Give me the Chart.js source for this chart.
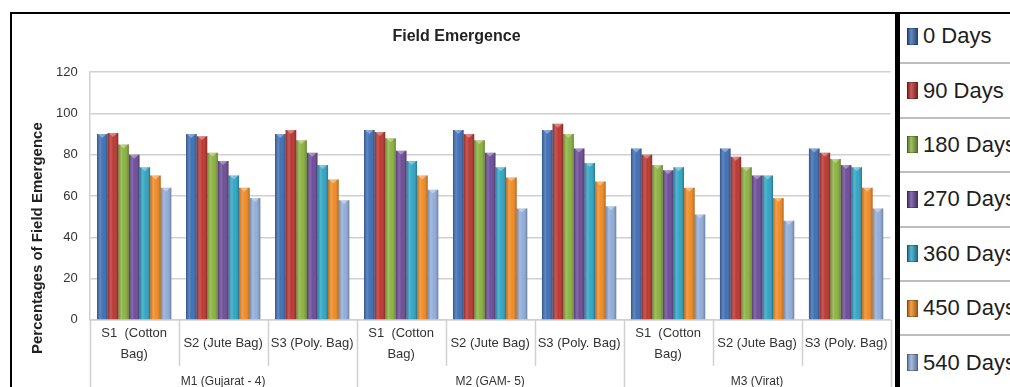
<!DOCTYPE html>
<html>
<head>
<meta charset="utf-8">
<title>Field Emergence</title>
<script src="https://cdn.jsdelivr.net/npm/chart.js@4.4.1/dist/chart.umd.min.js"></script>
<style>
  html, body { margin: 0; padding: 0; background: #fff; width: 1010px; height: 387px; overflow: hidden; }
  #chartBox {
    position: absolute; left: 10px; top: 12px;
    width: 885px; height: 410px;
    border-top: 2px solid #000; border-left: 2px solid #000;
    box-sizing: border-box;
  }
  #chartBox canvas { position: absolute; left: 0; top: 0; }
  #legendBox {
    position: absolute; left: 895px; top: 12px;
    width: 200px; height: 400px;
    border-top: 2px solid #000; border-left: 5px solid #000;
    box-sizing: border-box; overflow: hidden; background: #fff;
  }
  #legendBox ul { list-style: none; margin: -4px 0 0 0; padding: 0; }
  #legendBox li {
    height: 52.4px; border-bottom: 2px solid #bdbdbd;
    display: flex; align-items: center; white-space: nowrap;
    font-family: 'Liberation Sans', sans-serif;
    font-size: 22px; color: #1e1e1e;
  }
  #legendBox .swatch {
    display: inline-block; width: 11px; height: 17px;
    margin: 0 5px 0 7px; box-sizing: border-box;
  }
</style>
</head>
<body>
<div id="chartBox"><canvas id="fieldChart" width="889" height="377"></canvas></div>
<div id="legendBox"><ul id="legendList"></ul></div>
<script>
// Storage treatments (two-level x axis: bag type within each variety)
var bagLabels = [
    ['S1  (Cotton', 'Bag)'], 'S2 (Jute Bag)', 'S3 (Poly. Bag)',
    ['S1  (Cotton', 'Bag)'], 'S2 (Jute Bag)', 'S3 (Poly. Bag)',
    ['S1  (Cotton', 'Bag)'], 'S2 (Jute Bag)', 'S3 (Poly. Bag)'
];
var varietyLabels = ['M1 (Gujarat - 4)', 'M2 (GAM- 5)', 'M3 (Virat)'];

// Field emergence (%) after each storage period
var seriesNames = ['0 Days', '90 Days', '180 Days', '270 Days', '360 Days', '450 Days', '540 Days'];
var days0   = [90, 90, 90, 92, 92, 92, 83, 83, 83];
var days90  = [90.5, 89, 92, 91, 90, 95, 80, 79, 81];
var days180 = [85, 81, 87, 88, 87, 90, 75, 74, 78];
var days270 = [80, 77, 81, 82, 81, 83, 72.5, 70, 75];
var days360 = [74, 70, 75, 77, 74, 76, 74, 70, 74];
var days450 = [70, 64, 68, 70, 69, 67, 64, 59, 64];
var days540 = [64, 59, 58, 63, 54, 55, 51, 48, 54];

var yTicks = [0, 20, 40, 60, 80, 100, 120];

var seriesColors = ['#3d6db3', '#bb3530', '#8ab13e', '#6b4b97', '#2fa4c4', '#f08a22', '#91acd8'];
var seriesValues = [days0, days90, days180, days270, days360, days450, days540];

var fontStack = "'Liberation Sans', sans-serif";
var gridGray = '#d0d0d0';

var datasets = seriesNames.map(function (name, i) {
    return {
        label: name,
        data: seriesValues[i],
        backgroundColor: seriesColors[i],
        borderWidth: 0,
        categoryPercentage: 0.835,
        barPercentage: 1.0
    };
});

// Glossy shading on each bar, like the cylinder look of office charts
var barShine = {
    id: 'barShine',
    afterDatasetsDraw: function (chart) {
        var ctx = chart.ctx;
        chart.data.datasets.forEach(function (ds, di) {
            chart.getDatasetMeta(di).data.forEach(function (bar) {
                var left = bar.x - bar.width / 2;
                var g = ctx.createLinearGradient(left, 0, left + bar.width, 0);
                g.addColorStop(0, 'rgba(0,0,0,0.22)');
                g.addColorStop(0.3, 'rgba(255,255,255,0.18)');
                g.addColorStop(0.55, 'rgba(255,255,255,0.02)');
                g.addColorStop(1, 'rgba(0,0,0,0.28)');
                ctx.save();
                ctx.fillStyle = g;
                ctx.fillRect(left, bar.y, bar.width, bar.base - bar.y);
                // small light cap on the top
                ctx.fillStyle = 'rgba(255,255,255,0.35)';
                ctx.beginPath();
                ctx.moveTo(left + 1, bar.y);
                ctx.lineTo(left + bar.width - 1, bar.y);
                ctx.lineTo(bar.x, bar.y + 4);
                ctx.closePath();
                ctx.fill();
                ctx.restore();
            });
        });
    }
};

// Vertical separators under the axis between bag types and varieties
var categorySeparators = {
    id: 'categorySeparators',
    afterDraw: function (chart) {
        var x = chart.scales.x;
        var ctx = chart.ctx;
        var step = x.getPixelForValue(1) - x.getPixelForValue(0);
        var top = chart.chartArea.bottom;
        ctx.save();
        ctx.strokeStyle = gridGray;
        ctx.lineWidth = 1.5;
        for (var i = 0; i <= bagLabels.length; i++) {
            var px = Math.round(x.getPixelForValue(i) - step / 2) + 0.5;
            var bottom = (i % 3 === 0) ? chart.height : top + 46;
            ctx.beginPath();
            ctx.moveTo(px, top);
            ctx.lineTo(px, bottom);
            ctx.stroke();
        }
        ctx.restore();
    }
};

// Rotated y-axis title, centred over the plot plus the label rows
var yTitle = {
    id: 'yTitle',
    afterDraw: function (chart) {
        var ctx = chart.ctx;
        var cy = (chart.chartArea.top + chart.height) / 2 + 6.5;
        ctx.save();
        ctx.translate(26, cy);
        ctx.rotate(-Math.PI / 2);
        ctx.font = 'bold 15px ' + fontStack;
        ctx.fillStyle = '#222';
        ctx.textAlign = 'center';
        ctx.textBaseline = 'middle';
        ctx.fillText('Percentages of Field Emergence', 0, 0);
        ctx.restore();
    }
};

var ctx = document.getElementById('fieldChart').getContext('2d');
var fieldChart = new Chart(ctx, {
    type: 'bar',
    data: { labels: bagLabels, datasets: datasets },
    options: {
        responsive: false,
        animation: false,
        layout: { padding: { left: 0, right: 0, top: 0, bottom: 2 } },
        plugins: {
            legend: { display: false },
            tooltip: { enabled: false },
            title: {
                display: true,
                text: 'Field Emergence',
                color: '#222',
                font: { family: fontStack, size: 16, weight: 'bold', lineHeight: 1.2 },
                padding: { top: 13, bottom: 26 }
            }
        },
        scales: {
            x: {
                weight: 0,
                grid: { display: false, drawTicks: false },
                border: { display: true, color: gridGray, width: 1.5 },
                ticks: {
                    color: '#333',
                    font: { family: fontStack, size: 13, lineHeight: 1.62 },
                    padding: 13.5,
                    maxRotation: 0,
                    autoSkip: false,
                    crossAlign: 'center'
                }
            },
            x2: {
                type: 'category',
                labels: varietyLabels,
                position: 'bottom',
                offset: true,
                weight: 1,
                grid: { display: false, drawTicks: false },
                border: { display: false },
                ticks: {
                    color: '#333',
                    font: { family: fontStack, size: 12, lineHeight: 1.2 },
                    padding: -15,
                    maxRotation: 0
                }
            },
            y: {
                min: 0,
                max: 120,
                afterBuildTicks: function (axis) {
                    axis.ticks = yTicks.map(function (v) { return { value: v }; });
                },
                // leave room on the left for the rotated title
                afterFit: function (axis) {
                    axis.width += 32;
                },
                grid: { color: gridGray, lineWidth: 1.5, drawTicks: false },
                border: { display: true, color: gridGray, width: 1.5 },
                ticks: {
                    color: '#333',
                    font: { family: fontStack, size: 13 },
                    padding: 12
                }
            }
        }
    },
    plugins: [barShine, categorySeparators, yTitle]
});

// Legend panel built from the chart's datasets
var list = document.getElementById('legendList');
fieldChart.data.datasets.forEach(function (ds) {
    var li = document.createElement('li');
    var sw = document.createElement('span');
    sw.className = 'swatch';
    sw.style.background = 'linear-gradient(to right, rgba(0,0,0,0.25), rgba(255,255,255,0.2) 35%, rgba(0,0,0,0.3)), ' + ds.backgroundColor;
    sw.style.border = '1px solid rgba(0,0,0,0.25)';
    li.appendChild(sw);
    li.appendChild(document.createTextNode(ds.label));
    list.appendChild(li);
});
</script>
</body>
</html>
